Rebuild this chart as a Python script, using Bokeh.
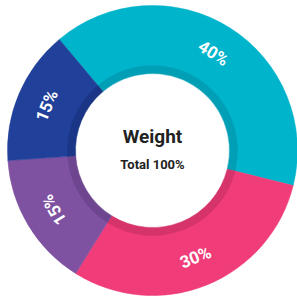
import math
from bokeh.plotting import figure
from bokeh.models import Range1d, ColumnDataSource
from bokeh.core.properties import value
from bokeh.embed import file_html
from bokeh.resources import INLINE

# data
labels = ["40%", "30%", "15%", "15%"]
shares = [40, 30, 15, 15]
colors = ["#00B4CC", "#F03C78", "#7F52A1", "#20409A"]
shades = ["#009FB6", "#D5336A", "#6E4690", "#1B3686"]
title = "Weight"
subtitle = "Total 100%"

W, H = 297, 298
cx, cy = 152, 148
start_deg = 130.0
FONT = "Roboto"

total = sum(shares)
starts, ends, mids = [], [], []
acc = 0.0
for s in shares:
    a0 = math.radians(start_deg - acc / total * 360)
    acc += s
    a1 = math.radians(start_deg - acc / total * 360)
    starts.append(a0)
    ends.append(a1)
    mids.append((a0 + a1) / 2)

p = figure(width=W, height=H, output_backend="svg", toolbar_location=None,
           x_range=Range1d(0, W), y_range=Range1d(0, H), min_border=0)
p.axis.visible = False
p.grid.visible = False
p.outline_line_color = None
p.background_fill_color = "white"
p.border_fill_color = "white"

src = ColumnDataSource(dict(x=[cx] * 4, y=[cy] * 4, s=starts, e=ends, c=colors, d=shades))
p.annular_wedge(x="x", y="y", inner_radius=84, outer_radius=145, start_angle="s", end_angle="e",
                direction="clock", fill_color="c", line_color="c", line_width=0.5, source=src)
p.annular_wedge(x="x", y="y", inner_radius=77, outer_radius=85, start_angle="s", end_angle="e",
                direction="clock", fill_color="d", line_color="d", line_width=0.5, source=src)

lr = 115
lx, ly, la = [], [], []
for m in mids:
    lx.append(cx + lr * math.cos(m))
    ly.append(cy + lr * math.sin(m))
    rot = m - math.pi / 2
    if math.sin(m) < -0.85:
        rot += math.pi
    la.append(rot)
p.text(x=lx, y=ly, text=labels, angle=la, text_color="white", text_font=value(FONT),
       text_font_style="bold", text_font_size="17px", text_align="center", text_baseline="middle")

p.text(x=[cx], y=[cy + 14], text=[title], text_color="#222222", text_font=value(FONT),
       text_font_style="bold", text_font_size="19px", text_align="center", text_baseline="middle")
p.text(x=[cx], y=[cy - 14], text=[subtitle], text_color="#222222", text_font=value(FONT),
       text_font_style="bold", text_font_size="13px", text_align="center", text_baseline="middle")

open("out.html", "w").write(file_html(p, INLINE))
